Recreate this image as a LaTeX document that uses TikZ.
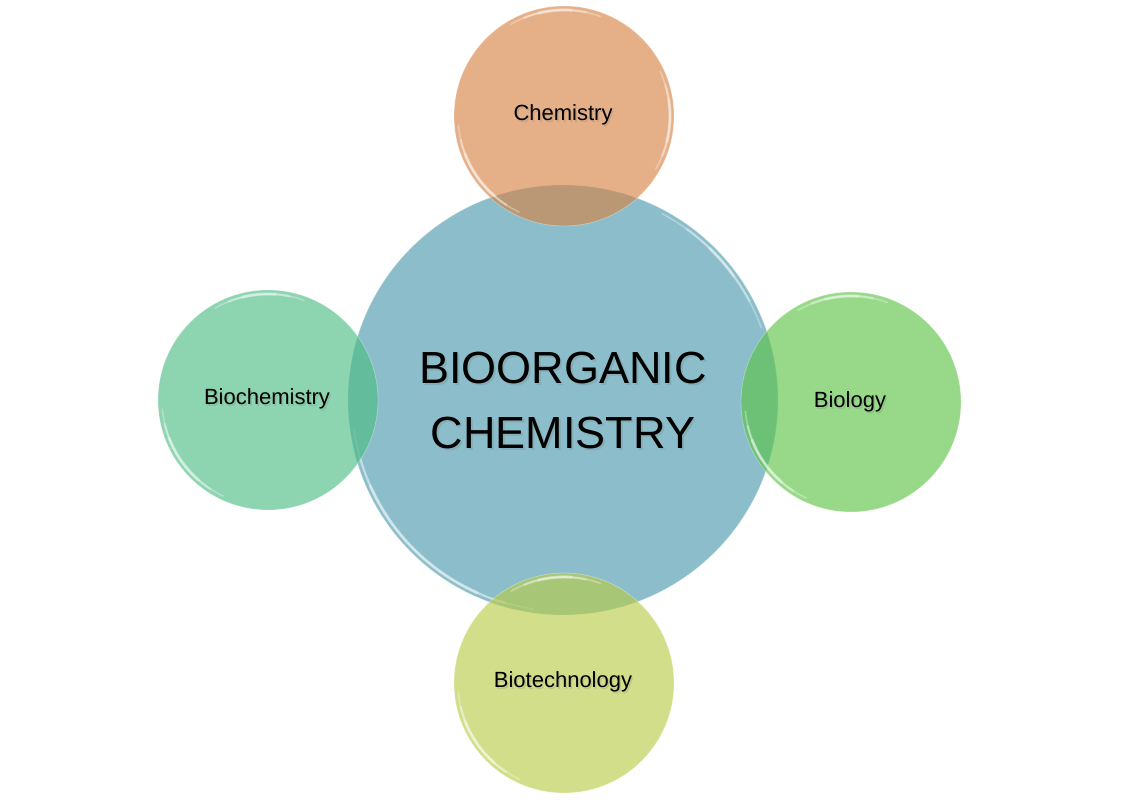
\documentclass[tikz,border=0pt]{standalone}
\usepackage{fontspec}
\setmainfont{Liberation Sans}
\definecolor{cMain}{RGB}{139,190,202}
\definecolor{cTop}{RGB}{214,131,68}
\definecolor{cLeft}{RGB}{76,187,130}
\definecolor{cRight}{RGB}{92,195,69}
\definecolor{cBot}{RGB}{184,203,69}
\newcommand\hilite[5]{%
  \draw[white, line width=#5, opacity=0.3, line cap=round]
    ([shift={(#3:#2)}]#1.center) arc[start angle=#3, end angle=#4, radius=#2];}
\newcommand\glassarc[4]{% node, radius, start, end
  \hilite{#1}{#2}{#3}{#4}{1.6pt}%
  \hilite{#1}{#2}{#3+8}{#4-8}{2.4pt}%
  \hilite{#1}{#2}{#3+16}{#4-16}{3.2pt}}
\begin{document}
\begin{tikzpicture}[x=1pt,y=1pt,
  disc/.style={circle, inner sep=0pt, minimum size=#1},
  sdisc/.style={disc=220pt, fill opacity=0.63},
  rim/.style={draw=white, draw opacity=0.3, line width=0.8pt},
  lbl/.style={font=\fontsize{22}{26}\selectfont, text=black, inner sep=0pt},
  shd/.style={lbl, text=black!60, opacity=0.18},
  big/.style={font=\fontsize{45}{65}\selectfont, text=black, align=center, inner sep=0pt},
  bigshd/.style={big, text=black!60, opacity=0.18},
]
\useasboundingbox (0,0) rectangle (1126,805);
\fill[white] (0,0) rectangle (1126,805);

% main circle
\node[disc=430pt, fill=cMain, rim] (main) at (563,405) {};
\glassarc{main}{211}{188}{262}
\glassarc{main}{211}{20}{62}

% satellite circles
\node[sdisc, fill=cTop, rim] (chem) at (564,689) {};
\node[sdisc, fill=cLeft, rim] (bioc) at (268,405) {};
\node[sdisc, fill=cRight, rim] (biol) at (851,403) {};
\node[sdisc, fill=cBot, rim] (biot) at (564,122) {};

\glassarc{chem}{106}{185}{245}
\glassarc{chem}{106}{-30}{25}
\glassarc{chem}{106}{70}{120}
\glassarc{bioc}{106}{185}{245}
\glassarc{bioc}{106}{70}{120}
\glassarc{biol}{106}{185}{245}
\glassarc{biol}{106}{70}{120}
\glassarc{biot}{106}{185}{245}
\glassarc{biot}{106}{70}{120}

% labels with soft shadow
\node[bigshd] (mainS) at (565,402.5) {BIOORGANIC\\CHEMISTRY};
\node[big] (mainT) at (563,404.5) {BIOORGANIC\\CHEMISTRY};

\node[shd] (chemS) at (564.5,688.5) {Chemistry};
\node[lbl] (chemT) at (563,690) {Chemistry};
\node[shd] (biocS) at (268.5,404.5) {Biochemistry};
\node[lbl] (biocT) at (267,406) {Biochemistry};
\node[shd] (biolS) at (851.5,401.5) {Biology};
\node[lbl] (biolT) at (850,403) {Biology};
\node[shd] (biotS) at (564.5,121.5) {Biotechnology};
\node[lbl] (biotT) at (563,123) {Biotechnology};
\end{tikzpicture}
\end{document}
